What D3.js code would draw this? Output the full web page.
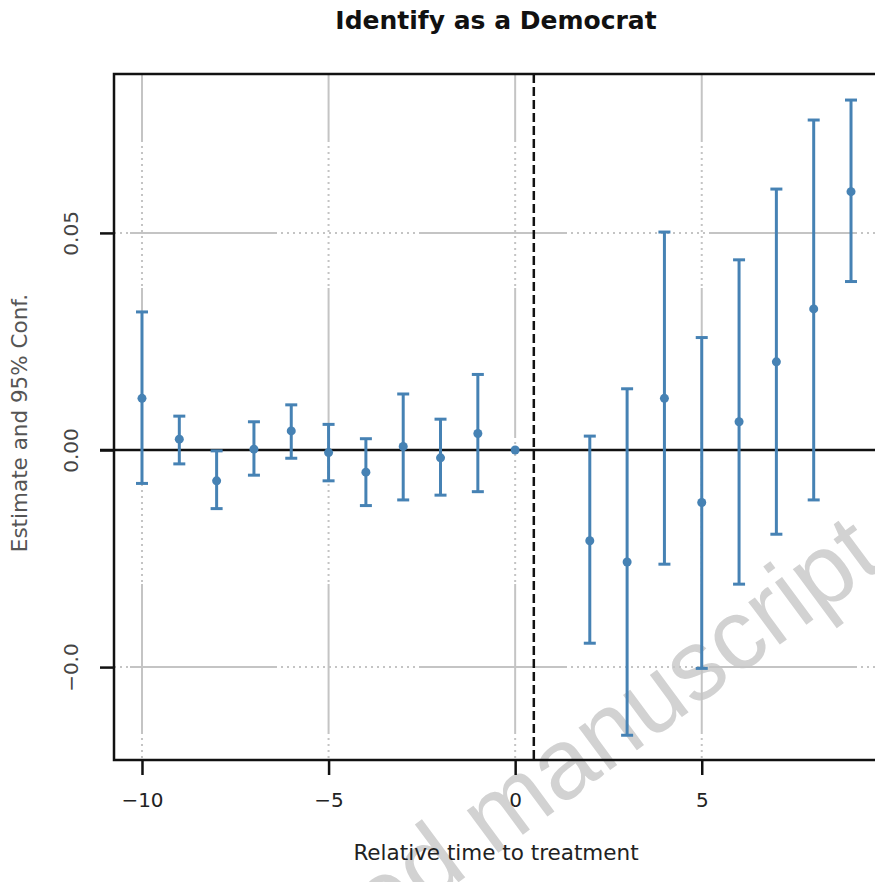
<!DOCTYPE html>
<html>
<head>
<meta charset="utf-8">
<script src="https://cdn.jsdelivr.net/npm/d3@7"></script>
<style>
  body { margin: 0; background: #fff; }
  svg { display: block; }
</style>
</head>
<body>
<svg id="canvas" width="875" height="882"></svg>
<script>
// relative time, point estimate, 95% CI
var periods  = [-10, -9, -8, -7, -6, -5, -4, -3, -2, -1, 0, 2, 3, 4, 5, 6, 7, 8, 9];
var estimate = [0.0119, 0.0025, -0.0071, 0.0002, 0.0044, -0.0006, -0.0051, 0.0008, -0.0018, 0.0038, 0.0,
                -0.0209, -0.0258, 0.0119, -0.0121, 0.0065, 0.0203, 0.0325, 0.0595];
var ciLow    = [-0.0077, -0.0032, -0.0135, -0.0058, -0.0019, -0.0071, -0.0128, -0.0115, -0.0104, -0.0096, null,
                -0.0445, -0.0657, -0.0263, -0.0503, -0.0309, -0.0194, -0.0115, 0.0388];
var ciHigh   = [0.0318, 0.0078, -0.0002, 0.0065, 0.0104, 0.0059, 0.0026, 0.0129, 0.0071, 0.0174, null,
                0.0032, 0.0141, 0.0502, 0.0259, 0.0438, 0.0601, 0.0760, 0.0806];

var xTicks = [-10, -5, 0, 5];
var xTickLabels = ["\u221210", "\u22125", "0", "5"];
var yTicks = [-0.05, 0, 0.05];
var yTickLabels = ["\u22120.0", "0.00", "0.05"];
var treatLine = 0.5;

var svg = d3.select("#canvas");
var plotL = 114, plotR = 879, plotT = 74, plotB = 760;
var blue = "#4682b4";
var font = "DejaVu Sans, Verdana, sans-serif";

var x = d3.scaleLinear().domain([-10.75, 9.75]).range([plotL, plotR]);
var y = d3.scaleLinear().domain([-0.0714, 0.0866]).range([plotB, plotT]);

// watermark
svg.append("text")
    .attr("transform", "translate(886,566) rotate(-36.5)")
    .attr("text-anchor", "end")
    .attr("font-family", "Liberation Sans, Arial, sans-serif")
    .attr("font-size", 100)
    .attr("fill", "#d2d2d2")
    .text("Accepted manuscript");

// gridlines drawn as alternating solid / dotted stretches
function segments(start, end, first, firstSolid, period){
    var out = [];
    var pos = start, solid = firstSolid, len = first;
    while (pos < end){
        var e = Math.min(pos + len, end);
        out.push({a: pos, b: e, solid: solid});
        pos = e; solid = !solid; len = period;
    }
    return out;
}
var grid = svg.append("g");
yTicks.forEach(function(v){
    if (v === 0) return;
    segments(plotL, plotR, 16, false, 145).forEach(function(s){
        grid.append("line")
            .attr("x1", s.a).attr("x2", s.b)
            .attr("y1", y(v)).attr("y2", y(v))
            .attr("stroke", "#c4c4c4").attr("stroke-width", 2)
            .attr("stroke-dasharray", s.solid ? null : "2,4");
    });
});
xTicks.forEach(function(v){
    segments(plotT, plotB, 66, true, 148).forEach(function(s){
        grid.append("line")
            .attr("x1", x(v)).attr("x2", x(v))
            .attr("y1", s.a).attr("y2", s.b)
            .attr("stroke", "#c4c4c4").attr("stroke-width", 2)
            .attr("stroke-dasharray", s.solid ? null : "2,4");
    });
});

// zero line and treatment line
svg.append("line")
    .attr("x1", plotL - 14).attr("x2", plotR)
    .attr("y1", y(0)).attr("y2", y(0))
    .attr("stroke", "#111").attr("stroke-width", 2.5);
svg.append("line")
    .attr("x1", x(treatLine)).attr("x2", x(treatLine))
    .attr("y1", plotT).attr("y2", plotB)
    .attr("stroke", "#111").attr("stroke-width", 2.5)
    .attr("stroke-dasharray", "9,4");

// frame
svg.append("rect")
    .attr("x", plotL).attr("y", plotT)
    .attr("width", plotR - plotL).attr("height", plotB - plotT)
    .attr("fill", "none").attr("stroke", "#111").attr("stroke-width", 2.5);

// axes
var xAxis = d3.axisBottom(x).tickValues(xTicks)
    .tickFormat(function(d, i){ return xTickLabels[i]; })
    .tickSize(15).tickSizeOuter(0).tickPadding(18);
var gx = svg.append("g").attr("transform", "translate(0," + plotB + ")").call(xAxis);
gx.select(".domain").remove();
gx.selectAll("line").attr("stroke", "#111").attr("stroke-width", 2.5);
gx.selectAll("text").attr("font-family", font)
    .attr("font-size", 20).attr("fill", "#222");

var yAxis = d3.axisLeft(y).tickValues(yTicks)
    .tickFormat(function(d, i){ return yTickLabels[i]; })
    .tickSize(14).tickSizeOuter(0);
var gy = svg.append("g").attr("transform", "translate(" + plotL + ",0)").call(yAxis);
gy.select(".domain").remove();
gy.selectAll("line").attr("stroke", "#111").attr("stroke-width", 2.5);
gy.selectAll("text")
    .attr("font-family", font)
    .attr("font-size", 20).attr("fill", "#444")
    .attr("text-anchor", "middle")
    .attr("x", 0).attr("dy", 0)
    .attr("transform", "translate(-42,0) rotate(-90)")
    .attr("dominant-baseline", "middle");

// error bars
var bars = svg.append("g");
periods.forEach(function(p, i){
    if (ciLow[i] === null) return;
    var cx = x(p);
    bars.append("line")
        .attr("x1", cx).attr("x2", cx)
        .attr("y1", y(ciLow[i])).attr("y2", y(ciHigh[i]))
        .attr("stroke", blue).attr("stroke-width", 3);
    [ciLow[i], ciHigh[i]].forEach(function(v){
        bars.append("line")
            .attr("x1", cx - 6).attr("x2", cx + 6)
            .attr("y1", y(v)).attr("y2", y(v))
            .attr("stroke", blue).attr("stroke-width", 3);
    });
});
bars.selectAll("circle").data(periods).enter().append("circle")
    .attr("cx", function(d){ return x(d); })
    .attr("cy", function(d, i){ return y(estimate[i]); })
    .attr("r", 4.5)
    .attr("fill", blue);

// titles
svg.append("text")
    .attr("x", 496).attr("y", 29)
    .attr("text-anchor", "middle")
    .attr("font-family", font)
    .attr("font-weight", "bold")
    .attr("font-size", 25)
    .attr("fill", "#111")
    .text("Identify as a Democrat");

svg.append("text")
    .attr("x", 496).attr("y", 860)
    .attr("text-anchor", "middle")
    .attr("font-family", font)
    .attr("font-size", 21.5)
    .attr("fill", "#222")
    .text("Relative time to treatment");

svg.append("text")
    .attr("transform", "translate(27,423) rotate(-90)")
    .attr("text-anchor", "middle")
    .attr("font-family", font)
    .attr("font-size", 21.5)
    .attr("fill", "#555")
    .text("Estimate and 95% Conf.");
</script>
</body>
</html>
